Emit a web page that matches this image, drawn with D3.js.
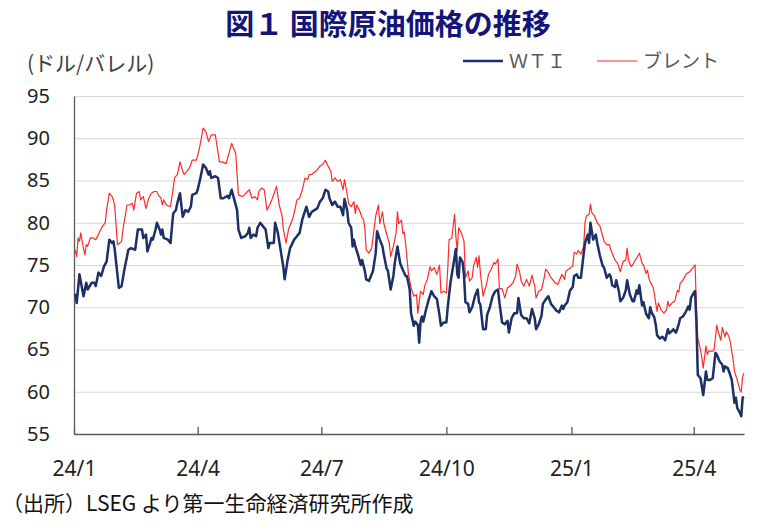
<!DOCTYPE html>
<html>
<head>
<meta charset="utf-8">
<script src="https://d3js.org/d3.v7.min.js"></script>
<style>
  body { margin: 0; background: #fff; }
  svg { display: block; }
</style>
</head>
<body>
<svg id="vis"></svg>

<script>
  // WTI (daily close)
  var wtiDates = [
    "2024-01-02","2024-01-03","2024-01-05","2024-01-08","2024-01-10","2024-01-11","2024-01-14","2024-01-16","2024-01-17","2024-01-19",
    "2024-01-21","2024-01-23","2024-01-25","2024-01-27","2024-01-29","2024-01-30","2024-01-31","2024-02-03","2024-02-05","2024-02-07",
    "2024-02-10","2024-02-12","2024-02-15","2024-02-17","2024-02-20","2024-02-21","2024-02-23","2024-02-24","2024-02-26","2024-02-27",
    "2024-02-28","2024-03-01","2024-03-02","2024-03-04","2024-03-05","2024-03-06","2024-03-07","2024-03-10","2024-03-12","2024-03-14",
    "2024-03-16","2024-03-17","2024-03-19","2024-03-21","2024-03-23","2024-03-25","2024-03-27","2024-03-28","2024-03-31","2024-04-01",
    "2024-04-03","2024-04-05","2024-04-07","2024-04-09","2024-04-10","2024-04-11","2024-04-14","2024-04-16","2024-04-18","2024-04-20",
    "2024-04-23","2024-04-24","2024-04-26","2024-04-27","2024-04-30","2024-05-01","2024-05-03","2024-05-06","2024-05-08","2024-05-09",
    "2024-05-10","2024-05-12","2024-05-14","2024-05-15","2024-05-17","2024-05-19","2024-05-21","2024-05-23","2024-05-24","2024-05-27",
    "2024-05-28","2024-05-30","2024-06-01","2024-06-03","2024-06-04","2024-06-06","2024-06-08","2024-06-11","2024-06-13","2024-06-15",
    "2024-06-17","2024-06-20","2024-06-22","2024-06-24","2024-06-26","2024-06-28","2024-06-30","2024-07-02","2024-07-04","2024-07-06",
    "2024-07-07","2024-07-09","2024-07-11","2024-07-13","2024-07-15","2024-07-17","2024-07-18","2024-07-20","2024-07-21","2024-07-23",
    "2024-07-24","2024-07-25","2024-07-26","2024-07-28","2024-07-30","2024-07-31","2024-08-02","2024-08-03","2024-08-05","2024-08-08",
    "2024-08-10","2024-08-11","2024-08-13","2024-08-15","2024-08-16","2024-08-18","2024-08-19","2024-08-21","2024-08-23","2024-08-24",
    "2024-08-26","2024-08-27","2024-08-28","2024-08-30","2024-09-01","2024-09-02","2024-09-04","2024-09-05","2024-09-07","2024-09-08",
    "2024-09-10","2024-09-11","2024-09-12","2024-09-13","2024-09-14","2024-09-16","2024-09-18","2024-09-20","2024-09-22","2024-09-24",
    "2024-09-26","2024-09-27","2024-09-29","2024-10-01","2024-10-02","2024-10-04","2024-10-06","2024-10-08","2024-10-09","2024-10-10",
    "2024-10-11","2024-10-13","2024-10-14","2024-10-15","2024-10-17","2024-10-18","2024-10-20","2024-10-22","2024-10-24","2024-10-25",
    "2024-10-26","2024-10-28","2024-10-30","2024-10-31","2024-11-02","2024-11-04","2024-11-06","2024-11-08","2024-11-09","2024-11-11",
    "2024-11-13","2024-11-15","2024-11-16","2024-11-18","2024-11-20","2024-11-22","2024-11-23","2024-11-25","2024-11-27","2024-11-29",
    "2024-12-01","2024-12-03","2024-12-05","2024-12-06","2024-12-08","2024-12-10","2024-12-11","2024-12-13","2024-12-15","2024-12-17",
    "2024-12-19","2024-12-21","2024-12-23","2024-12-25","2024-12-26","2024-12-27","2024-12-29","2024-12-31","2025-01-02","2025-01-03",
    "2025-01-05","2025-01-06","2025-01-08","2025-01-10","2025-01-11","2025-01-13","2025-01-14","2025-01-15","2025-01-17","2025-01-19",
    "2025-01-20","2025-01-22","2025-01-24","2025-01-25","2025-01-27","2025-01-29","2025-01-30","2025-01-31","2025-02-02","2025-02-03",
    "2025-02-05","2025-02-06","2025-02-08","2025-02-10","2025-02-11","2025-02-13","2025-02-15","2025-02-16","2025-02-18","2025-02-19",
    "2025-02-20","2025-02-22","2025-02-23","2025-02-25","2025-02-27","2025-02-28","2025-03-01","2025-03-03","2025-03-04","2025-03-05",
    "2025-03-07","2025-03-09","2025-03-11","2025-03-13","2025-03-14","2025-03-16","2025-03-17","2025-03-19","2025-03-21","2025-03-22",
    "2025-03-24","2025-03-26","2025-03-28","2025-03-29","2025-03-30","2025-04-01","2025-04-02","2025-04-03","2025-04-04","2025-04-06",
    "2025-04-07","2025-04-08","2025-04-10","2025-04-11","2025-04-13","2025-04-15","2025-04-17","2025-04-18","2025-04-20","2025-04-22",
    "2025-04-23","2025-04-24","2025-04-26","2025-04-27","2025-04-29","2025-05-01","2025-05-02","2025-05-03","2025-05-05","2025-05-06",
    "2025-05-07","2025-05-08"
  ];
  var wtiValues = [
    71.6,70.5,73.9,71.3,72.9,72.1,72.9,72.9,72.5,74.1,
    73.7,74.8,75.4,78.0,77.6,77.8,76.8,72.3,72.5,74.4,
    76.8,77.0,76.8,79.2,79.2,78.2,78.6,76.6,77.6,78.2,
    78.0,79.2,80.0,79.2,78.6,79.2,78.2,78.0,77.6,81.1,
    81.5,82.3,83.5,80.7,81.5,81.3,81.9,83.3,83.5,83.9,
    85.3,86.9,86.5,85.7,86.1,85.3,85.5,85.3,82.9,82.9,
    83.2,82.9,83.9,83.3,81.5,79.2,78.2,78.4,78.8,79.4,
    78.2,78.6,78.4,79.4,80.0,79.6,79.2,77.0,77.6,77.6,
    80.0,78.8,76.8,74.8,73.3,75.4,77.0,78.0,78.4,78.8,
    80.4,81.9,80.7,81.3,81.5,81.7,82.5,82.9,83.9,83.7,
    82.9,82.1,82.5,81.9,81.9,80.9,82.8,81.5,80.0,79.4,
    77.2,78.0,77.2,76.2,75.0,75.6,74.3,73.3,73.1,74.3,
    76.4,79.0,78.0,77.2,76.2,74.6,74.3,72.1,73.7,75.2,
    77.2,76.2,75.2,74.4,73.7,73.7,72.1,69.3,67.8,68.3,
    67.9,65.8,68.3,68.9,68.3,69.7,70.9,71.9,71.3,71.0,
    69.0,67.8,68.2,68.2,70.0,72.9,74.9,76.9,73.9,73.5,
    75.9,75.3,73.7,70.6,70.4,69.4,70.0,71.3,72.1,70.6,
    70.3,67.4,67.4,69.1,70.0,71.3,71.9,72.1,70.6,68.2,
    68.0,68.4,67.0,68.7,69.3,69.3,71.1,69.1,68.7,68.7,
    68.1,69.8,68.7,67.4,68.0,69.0,70.4,70.9,71.3,70.4,
    70.0,69.6,69.4,70.2,69.8,70.2,70.6,72.0,72.4,73.7,
    73.9,73.5,73.5,76.3,77.6,78.6,77.6,80.0,78.0,78.6,
    77.6,76.1,74.9,74.7,73.5,73.9,73.6,72.6,72.4,73.2,
    71.8,70.7,71.1,72.0,73.2,71.5,70.7,70.7,72.0,71.6,
    72.6,70.2,70.6,69.2,68.7,70.0,69.4,68.8,68.0,66.7,
    66.3,66.5,66.1,67.4,66.9,67.2,67.4,67.0,68.0,68.7,
    68.9,69.4,70.1,69.7,71.1,71.7,71.9,68.1,62.0,61.6,
    60.6,59.6,62.4,61.4,61.4,61.6,64.6,64.4,63.6,63.2,
    62.4,63.0,62.8,62.4,61.4,58.7,59.3,58.1,57.5,57.1,
    59.3,59.4
  ];

  // Brent (daily close)
  var brentDates = [
    "2024-01-02","2024-01-03","2024-01-04","2024-01-05","2024-01-06","2024-01-07","2024-01-09","2024-01-10","2024-01-11","2024-01-13",
    "2024-01-15","2024-01-17","2024-01-19","2024-01-20","2024-01-22","2024-01-24","2024-01-25","2024-01-27","2024-01-29","2024-01-30",
    "2024-01-31","2024-02-02","2024-02-05","2024-02-06","2024-02-09","2024-02-11","2024-02-13","2024-02-14","2024-02-16","2024-02-18",
    "2024-02-19","2024-02-21","2024-02-23","2024-02-25","2024-02-27","2024-02-29","2024-03-02","2024-03-03","2024-03-05","2024-03-06",
    "2024-03-07","2024-03-09","2024-03-12","2024-03-14","2024-03-15","2024-03-17","2024-03-19","2024-03-21","2024-03-22","2024-03-25",
    "2024-03-26","2024-03-28","2024-03-31","2024-04-02","2024-04-03","2024-04-05","2024-04-07","2024-04-09","2024-04-11","2024-04-14",
    "2024-04-17","2024-04-19","2024-04-22","2024-04-24","2024-04-26","2024-04-29","2024-05-01","2024-05-04","2024-05-09","2024-05-11",
    "2024-05-13","2024-05-15","2024-05-16","2024-05-18","2024-05-20","2024-05-22","2024-05-24","2024-05-26","2024-05-29","2024-05-31",
    "2024-06-02","2024-06-03","2024-06-05","2024-06-07","2024-06-08","2024-06-10","2024-06-12","2024-06-13","2024-06-15","2024-06-17",
    "2024-06-19","2024-06-21","2024-06-22","2024-06-24","2024-06-25","2024-06-27","2024-06-29","2024-06-30","2024-07-02","2024-07-04",
    "2024-07-06","2024-07-08","2024-07-09","2024-07-11","2024-07-13","2024-07-15","2024-07-17","2024-07-18","2024-07-20","2024-07-21",
    "2024-07-23","2024-07-25","2024-07-26","2024-07-27","2024-07-29","2024-07-31","2024-08-01","2024-08-02","2024-08-03","2024-08-05",
    "2024-08-07","2024-08-08","2024-08-10","2024-08-12","2024-08-13","2024-08-15","2024-08-16","2024-08-18","2024-08-20","2024-08-21",
    "2024-08-23","2024-08-25","2024-08-26","2024-08-27","2024-08-29","2024-08-30","2024-08-31","2024-09-01","2024-09-03","2024-09-05",
    "2024-09-07","2024-09-09","2024-09-10","2024-09-12","2024-09-14","2024-09-15","2024-09-17","2024-09-19","2024-09-20","2024-09-22",
    "2024-09-24","2024-09-26","2024-09-27","2024-09-29","2024-10-01","2024-10-02","2024-10-03","2024-10-05","2024-10-07","2024-10-08",
    "2024-10-09","2024-10-10","2024-10-12","2024-10-14","2024-10-15","2024-10-17","2024-10-18","2024-10-20","2024-10-21","2024-10-23",
    "2024-10-24","2024-10-25","2024-10-26","2024-10-28","2024-10-30","2024-10-31","2024-11-01","2024-11-03","2024-11-05","2024-11-06",
    "2024-11-08","2024-11-09","2024-11-11","2024-11-13","2024-11-15","2024-11-17","2024-11-19","2024-11-21","2024-11-22","2024-11-24",
    "2024-11-25","2024-11-27","2024-11-29","2024-12-01","2024-12-03","2024-12-05","2024-12-06","2024-12-08","2024-12-10","2024-12-12",
    "2024-12-13","2024-12-15","2024-12-17","2024-12-18","2024-12-20","2024-12-22","2024-12-24","2024-12-25","2024-12-27","2024-12-28",
    "2024-12-30","2025-01-02","2025-01-03","2025-01-05","2025-01-06","2025-01-08","2025-01-10","2025-01-11","2025-01-12","2025-01-14",
    "2025-01-15","2025-01-16","2025-01-18","2025-01-20","2025-01-22","2025-01-24","2025-01-25","2025-01-27","2025-01-29","2025-01-30",
    "2025-01-31","2025-02-02","2025-02-04","2025-02-06","2025-02-08","2025-02-10","2025-02-11","2025-02-12","2025-02-14","2025-02-15",
    "2025-02-17","2025-02-18","2025-02-20","2025-02-22","2025-02-23","2025-02-25","2025-02-26","2025-02-27","2025-02-28","2025-03-02",
    "2025-03-03","2025-03-05","2025-03-06","2025-03-08","2025-03-10","2025-03-12","2025-03-13","2025-03-14","2025-03-15","2025-03-16",
    "2025-03-18","2025-03-20","2025-03-21","2025-03-22","2025-03-24","2025-03-26","2025-03-27","2025-03-29","2025-03-31","2025-04-02",
    "2025-04-03","2025-04-04","2025-04-06","2025-04-07","2025-04-08","2025-04-10","2025-04-11","2025-04-12","2025-04-15","2025-04-16",
    "2025-04-18","2025-04-19","2025-04-21","2025-04-22","2025-04-24","2025-04-25","2025-04-27","2025-04-28","2025-04-30","2025-05-01",
    "2025-05-03","2025-05-05","2025-05-06","2025-05-07","2025-05-08"
  ];
  var brentValues = [
    76.8,76.0,78.2,77.8,78.8,77.8,76.2,77.4,77.2,78.2,
    78.2,78.0,78.6,79.0,79.6,80.0,81.5,83.5,83.1,82.7,
    81.9,77.4,77.8,79.2,82.1,82.1,82.3,81.5,83.5,83.7,
    82.7,83.1,81.7,82.9,83.5,83.7,83.7,83.3,82.9,82.1,
    82.7,82.1,81.9,84.1,85.3,85.7,87.2,86.1,85.7,86.3,
    86.5,87.4,87.4,88.6,89.4,91.2,90.8,89.6,90.4,90.4,
    87.2,87.2,87.0,88.2,89.4,88.2,83.3,83.1,83.9,82.9,
    83.1,82.7,83.7,84.1,83.9,81.5,82.1,82.9,84.3,82.1,
    80.9,79.3,77.6,79.3,79.7,80.5,81.9,82.7,82.9,83.9,
    85.3,85.1,85.7,85.7,85.9,86.1,86.5,86.7,86.9,87.4,
    86.7,86.1,84.9,85.3,84.9,85.1,83.9,85.1,83.4,82.3,
    81.9,82.5,81.1,82.1,81.5,80.6,80.4,79.4,76.8,76.4,
    77.0,78.2,80.8,82.1,79.9,81.3,79.9,78.7,77.6,76.0,
    77.2,78.8,81.3,79.9,80.3,78.7,78.9,77.6,74.1,72.3,
    71.3,71.5,69.3,71.9,71.5,72.5,73.3,74.8,74.3,74.7,
    73.9,75.0,71.7,71.9,71.7,74.5,78.0,78.2,81.0,78.4,
    76.7,79.4,78.8,77.8,73.5,74.3,73.1,73.5,74.9,75.9,
    74.7,76.1,74.1,71.3,72.4,73.1,73.9,74.5,75.3,75.1,
    75.7,72.2,72.2,71.1,72.3,72.5,72.9,73.7,75.1,74.1,
    73.1,72.5,73.3,72.5,73.8,72.5,71.1,71.9,72.1,73.5,
    74.5,74.1,73.5,73.3,72.9,72.7,73.5,73.9,73.3,74.3,
    74.5,74.9,76.5,76.3,76.7,76.3,77.2,80.0,80.8,81.0,
    82.2,81.2,80.8,80.0,79.6,78.4,77.8,77.4,77.4,76.8,
    76.4,75.6,75.2,74.2,75.4,75.6,77.0,75.6,74.8,75.0,
    75.6,75.8,76.4,75.2,75.0,74.0,74.4,73.4,73.0,72.4,
    71.6,69.5,70.5,69.7,69.3,69.7,70.7,70.1,70.3,70.5,
    70.7,72.0,71.8,72.8,73.2,73.8,74.0,74.2,74.6,75.0,
    70.0,66.3,65.0,64.0,62.8,65.4,64.4,64.8,64.8,65.0,
    67.9,67.1,66.1,67.6,66.5,67.1,66.5,65.8,63.8,62.4,
    61.4,60.2,60.0,61.8,62.2
  ];

  var yTicks = [55, 60, 65, 70, 75, 80, 85, 90, 95];
  var xTickDates = ["2024-01-01", "2024-04-01", "2024-07-01", "2024-10-01", "2025-01-01", "2025-04-01"];

  var parseDate = d3.utcParse("%Y-%m-%d");
  var jpFont = "'Noto Sans CJK JP', 'Noto Sans', sans-serif";
  var numFont = "'Noto Sans', 'Liberation Sans', sans-serif";

  var svg = d3.select("#vis")
      .attr('width', 766)
      .attr('height', 528);

  var xScale = d3.scaleUtc()
      .domain([parseDate("2024-01-01"), parseDate("2025-05-08")])
      .range([74, 744]);

  var yScale = d3.scaleLinear()
      .domain([55, 95])
      .range([434, 96]);

  // Title
  svg.append('text')
      .attr('x', 388)
      .attr('y', 35)
      .attr('text-anchor', 'middle')
      .attr('font-family', jpFont)
      .attr('font-weight', 700)
      .attr('font-size', 29)
      .attr('fill', '#14147a')
      .text('図１ 国際原油価格の推移');

  // Unit label
  svg.append('text')
      .attr('x', 27)
      .attr('y', 71)
      .attr('font-family', jpFont)
      .attr('font-size', 21)
      .attr('fill', '#404040')
      .text('(ドル/バレル)');

  // Gridlines
  svg.append('g')
      .attr('transform', 'translate(74,0)')
      .call(d3.axisLeft(yScale).tickValues(yTicks).tickSize(-670).tickFormat(''))
      .call(function(g) { g.select('.domain').remove(); })
      .selectAll('line')
      .attr('stroke', '#d9d9d9')
      .attr('stroke-width', 1);

  // Y axis labels + line
  var yAxis = svg.append('g')
      .attr('transform', 'translate(74,0)')
      .call(d3.axisLeft(yScale).tickValues(yTicks).tickSize(0).tickPadding(24));
  yAxis.select('.domain').attr('stroke', '#595959').attr('stroke-width', 1.3);
  yAxis.selectAll('text')
      .attr('font-family', numFont)
      .attr('font-size', 20)
      .attr('fill', '#222');

  // Lines
  var line = d3.line()
      .x(function(d) { return xScale(d[0]); })
      .y(function(d) { return yScale(d[1]); });

  var brentData = brentDates.map(function(s, i) { return [parseDate(s), brentValues[i]]; });
  var wtiData = wtiDates.map(function(s, i) { return [parseDate(s), wtiValues[i]]; });

  svg.append('path')
      .datum(brentData)
      .attr('d', line)
      .attr('fill', 'none')
      .attr('stroke', '#ff2a2a')
      .attr('stroke-width', 1.2)
      .attr('stroke-linejoin', 'round');

  svg.append('path')
      .datum(wtiData)
      .attr('d', line)
      .attr('fill', 'none')
      .attr('stroke', '#1c2f66')
      .attr('stroke-width', 2.5)
      .attr('stroke-linejoin', 'round');

  // X axis
  var xAxis = svg.append('g')
      .attr('transform', 'translate(0,434)')
      .call(d3.axisBottom(xScale)
          .tickValues(xTickDates.map(parseDate))
          .tickFormat(d3.utcFormat('%y/%-m'))
          .tickSizeInner(-7)
          .tickSizeOuter(0)
          .tickPadding(27));
  xAxis.select('.domain').attr('stroke', '#595959').attr('stroke-width', 1.3);
  xAxis.selectAll('line').attr('stroke', '#595959').attr('stroke-width', 1.3);
  xAxis.selectAll('text')
      .attr('font-family', numFont)
      .attr('font-size', 21)
      .attr('fill', '#222');

  // Legend
  var legend = [
    {name: 'ＷＴＩ', color: '#1c2f66', width: 2.5, x: 463},
    {name: 'ブレント', color: '#ff2a2a', width: 1.2, x: 597}
  ];
  var lg = svg.selectAll('g.legend')
      .data(legend)
      .enter().append('g')
      .attr('class', 'legend');
  lg.append('line')
      .attr('x1', function(d) { return d.x; })
      .attr('x2', function(d) { return d.x + 40; })
      .attr('y1', 61)
      .attr('y2', 61)
      .attr('stroke', function(d) { return d.color; })
      .attr('stroke-width', function(d) { return d.width; });
  lg.append('text')
      .attr('x', function(d) { return d.x + 46; })
      .attr('y', 68)
      .attr('font-family', jpFont)
      .attr('font-size', 19)
      .attr('fill', '#595959')
      .text(function(d) { return d.name; });

  // Source
  svg.append('text')
      .attr('x', 2)
      .attr('y', 511)
      .attr('font-family', jpFont)
      .attr('font-size', 21)
      .attr('fill', '#111')
      .text('（出所）LSEG より第一生命経済研究所作成');
</script>
</body>
</html>
